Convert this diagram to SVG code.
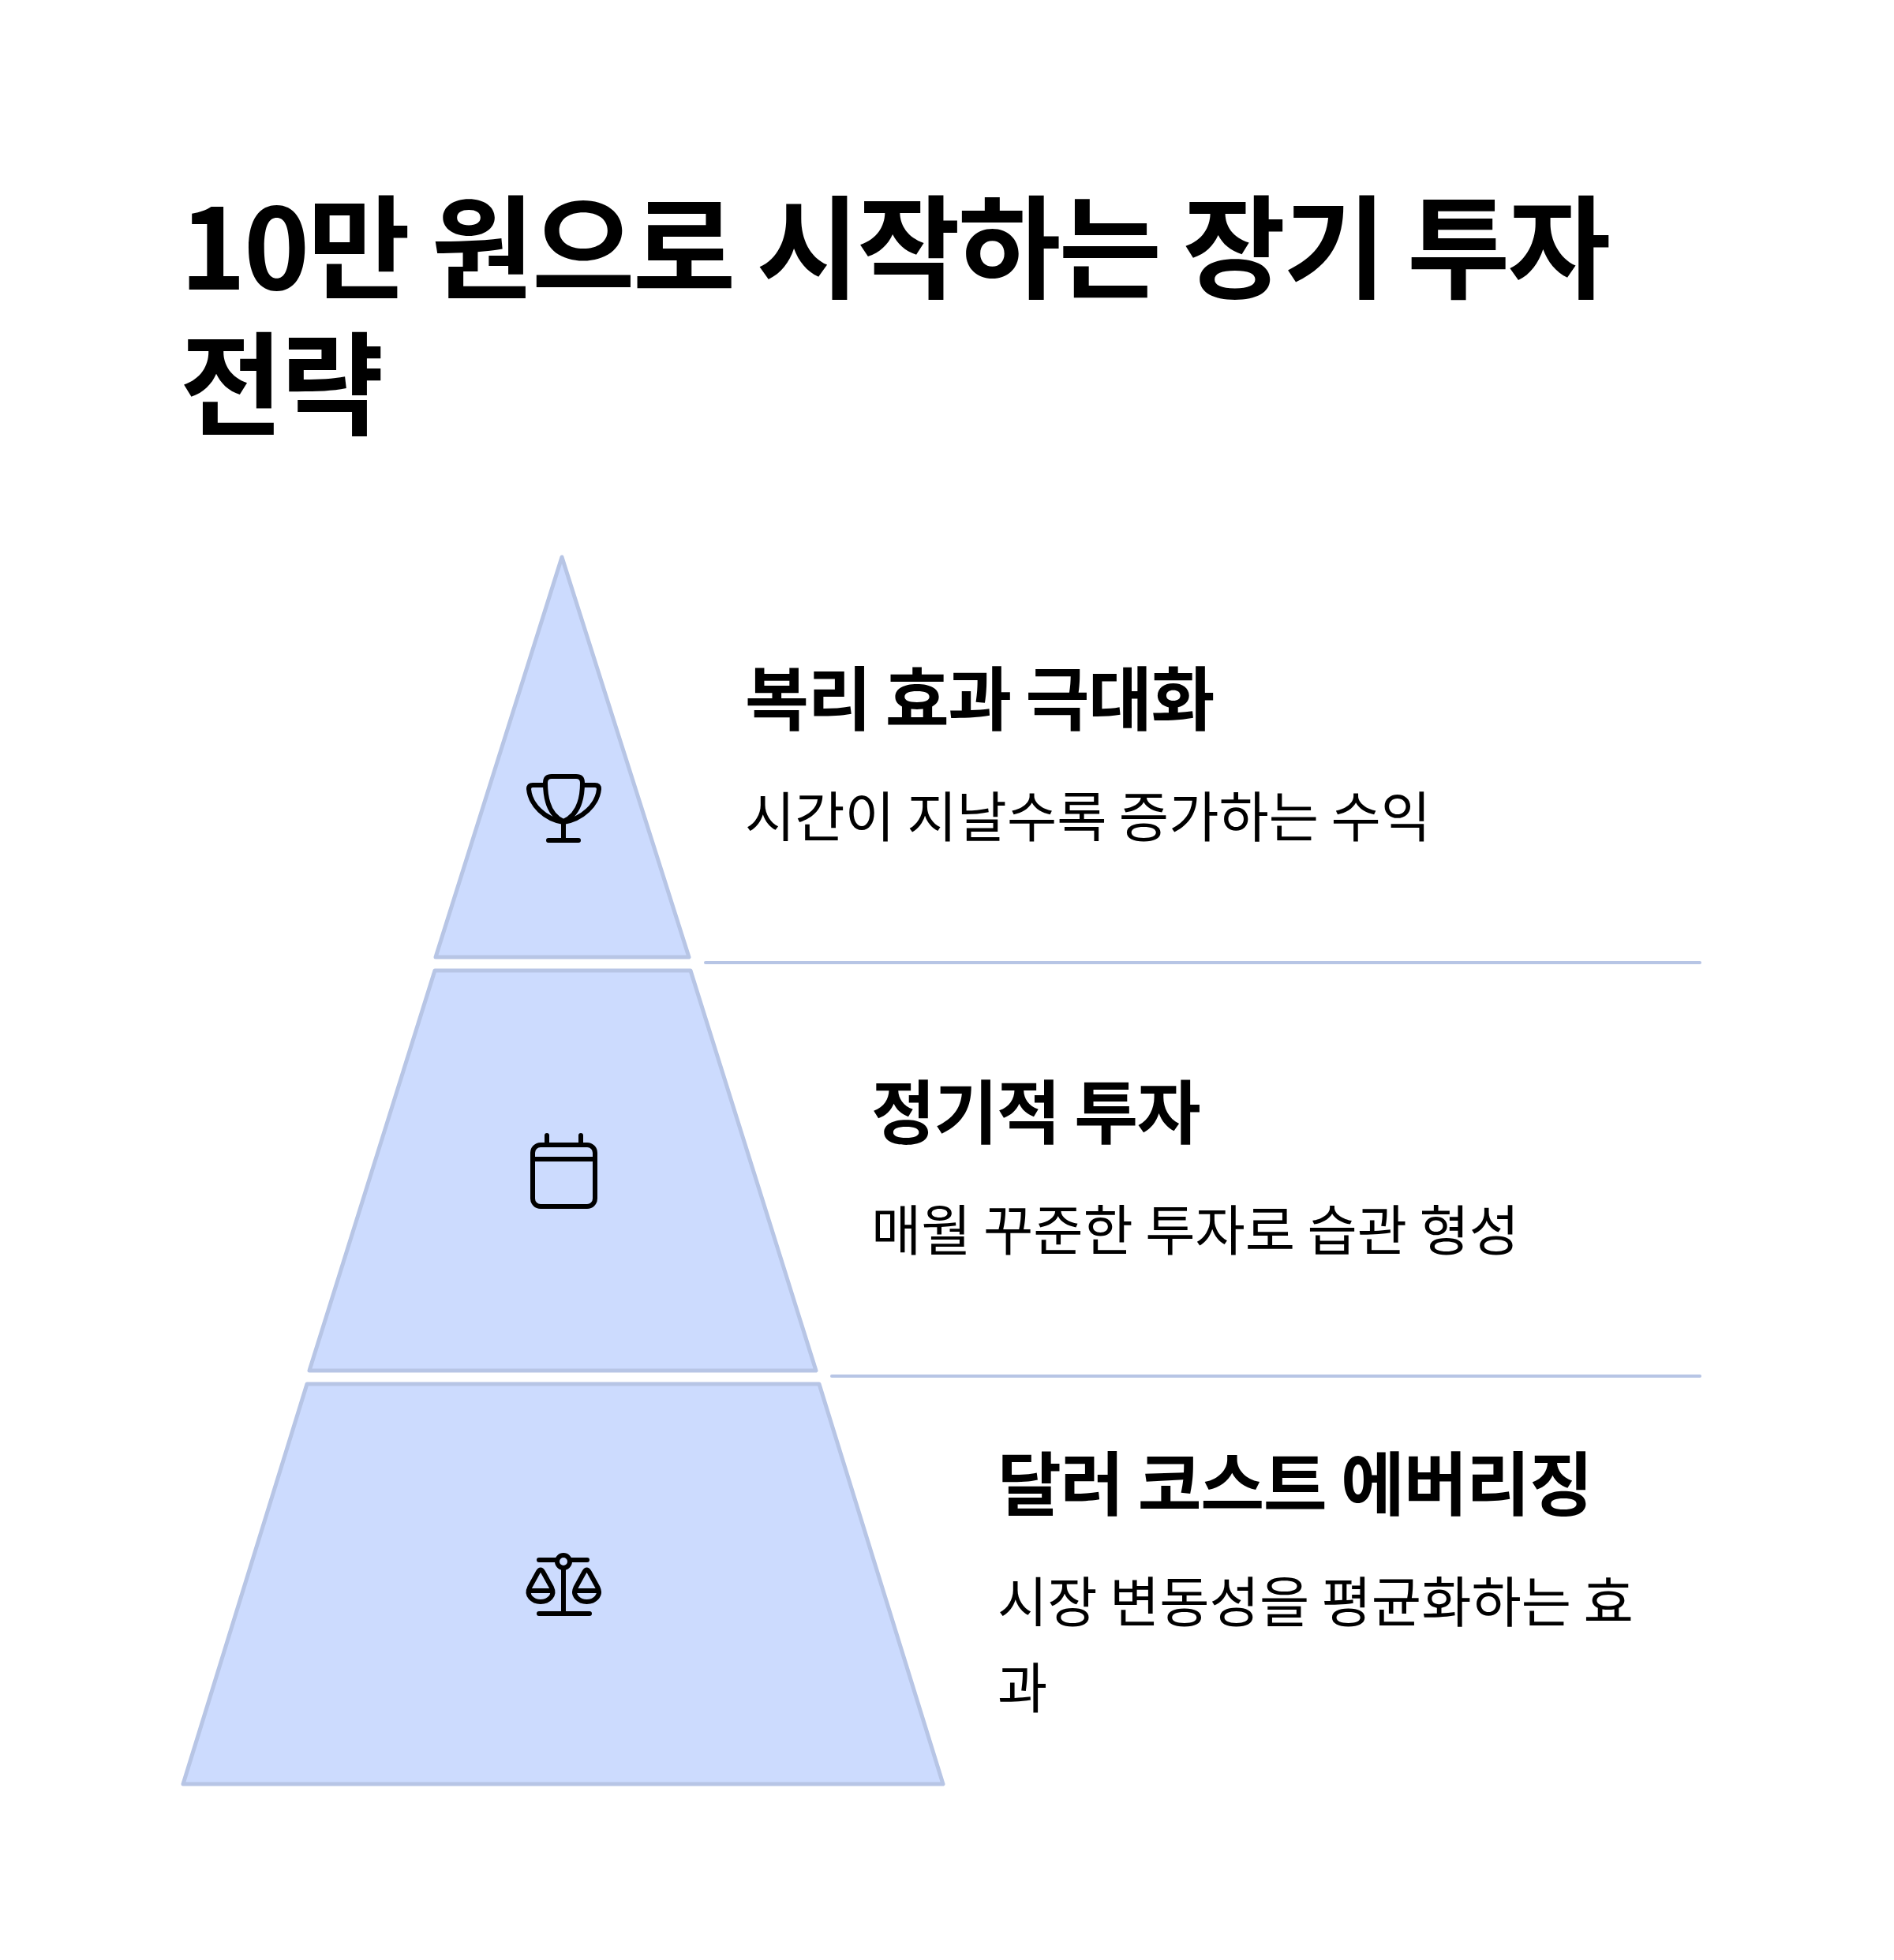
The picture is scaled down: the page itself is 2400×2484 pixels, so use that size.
<svg xmlns="http://www.w3.org/2000/svg" width="2400" height="2484" viewBox="0 0 2400 2484">
<style>
text{font-family:"Noto Sans CJK KR","Noto Sans",sans-serif;fill:#000}
.t{font-size:142px;font-weight:700;letter-spacing:-3px}
.h{font-size:88px;font-weight:700;letter-spacing:-1.4px}
.b{font-size:68.8px;font-weight:400}
.p{fill:#ccdbfe;stroke:#b7c5e5;stroke-width:5;stroke-linejoin:round}
.d{stroke:#b7c5e5;stroke-width:4;stroke-linecap:round;fill:none}
.i{fill:none;stroke:#000;stroke-width:6;stroke-linecap:round;stroke-linejoin:round}
</style>
<rect width="2400" height="2484" fill="#fff"/>
<g id="title"><text class="t" x="228" y="367">10만 원으로 시작하는 장기 투자</text><text class="t" x="228" y="540">전략</text></g>
<g id="connectors"><path class="d" d="M894 1220H2154"/><path class="d" d="M1054 1744H2154"/></g>
<g id="tier-1"><path class="p" d="M712 706L873 1213H552Z"/>
<g class="i"><path d="M699 984H730Q738 984 738 992C738 1018 730 1034 714 1041C698 1034 691 1018 691 992Q691 984 699 984Z"/><path d="M691 995H675Q670 995 670 1000C672 1020 690 1038 714 1042"/><path d="M738 995H754Q759 995 759 1000C757 1020 738 1038 714 1042"/><path d="M714 1042V1065M695 1065H733"/></g>
<text class="h" x="944" y="918">복리 효과 극대화</text><text class="b" x="944" y="1061">시간이 지날수록 증가하는 수익</text></g>
<g id="tier-2"><path class="p" d="M551 1230H875L1034 1737H392Z"/>
<g class="i"><rect x="675" y="1451" width="79" height="78" rx="10"/><path d="M693 1439V1451M736 1439V1451M675 1469H754"/></g>
<text class="h" x="1104" y="1442">정기적 투자</text><text class="b" x="1104" y="1585">매월 꾸준한 투자로 습관 형성</text></g>
<g id="tier-3"><path class="p" d="M389 1754H1038L1195 2261H232Z"/>
<g class="i"><path d="M683 1977H706M722 1977H744M714 1987V2045M683 2045H747"/><circle cx="714" cy="1979" r="8"/><path d="M671 2012L682 1992Q685 1987 688 1992L699 2012C704 2022 695 2030 685 2030C675 2030 666 2022 671 2012ZM670 2016H700"/><path d="M729.500 2012L740.500 1992Q743.500 1987 746.500 1992L757.500 2012C762.500 2022 753.500 2030 743.500 2030C733.500 2030 724.500 2022 729.500 2012ZM728.500 2016H758.500"/></g>
<text class="h" x="1264" y="1913">달러 코스트 에버리징</text><text class="b" x="1264" y="2056">시장 변동성을 평균화하는 효</text><text class="b" x="1264" y="2165">과</text></g>
</svg>
